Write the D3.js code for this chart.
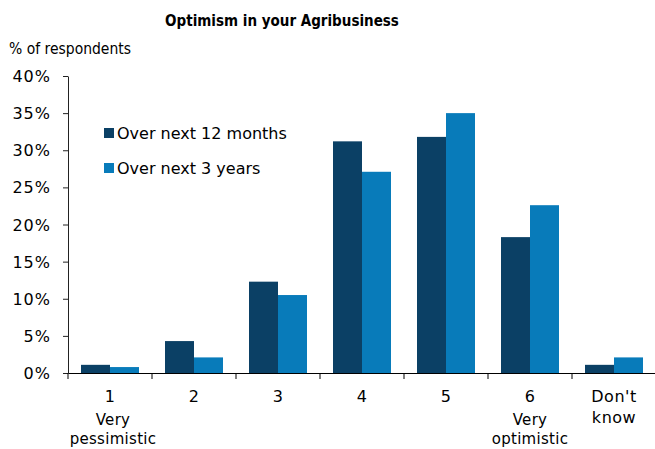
<!DOCTYPE html>
<html><head><meta charset="utf-8">
<script src="https://cdn.jsdelivr.net/npm/d3@7/dist/d3.min.js"></script>
<style>body{margin:0;background:#fff}svg{display:block;font-family:"DejaVu Sans",Verdana,sans-serif}</style>
</head><body>
<svg id="c" width="655" height="449"></svg>
<script>
const categories = ["1","2","3","4","5","6","Don't know"];
const subLabels1 = ["Very","pessimistic"];
const subLabels6 = ["Very","optimistic"];
const series = ["Over next 12 months","Over next 3 years"];
const next12Months = [1.1, 4.3, 12.3, 31.2, 31.8, 18.3, 1.1];
const next3Years   = [0.8, 2.1, 10.5, 27.1, 35.0, 22.6, 2.1];
const yTicks = [0,5,10,15,20,25,30,35,40];
const colors = ["#0b4065", "#087bba"];

const svg = d3.select("#c");
const x0 = 68, x1 = 656, yTop = 76, yBot = 373;
const x = d3.scaleBand().domain(categories).range([x0, x1]).paddingInner(0).paddingOuter(0);
const xs = d3.scaleBand().domain(series).range([13, x.bandwidth()-13]);
const y = d3.scaleLinear().domain([0,40]).range([yBot, yTop]);

// title
svg.append("text").attr("x", 282).attr("y", 26).attr("text-anchor","middle")
  .attr("font-family","'DejaVu Sans Condensed', 'DejaVu Sans', sans-serif").attr("font-stretch","condensed")
  .attr("font-weight","bold").attr("font-size", 15).attr("fill","#000")
  .text("Optimism in your Agribusiness");
svg.append("text").attr("x", 9).attr("y", 54).attr("font-size", 15.5)
  .attr("font-family","'DejaVu Sans Condensed', 'DejaVu Sans', sans-serif").attr("font-stretch","condensed")
  .attr("fill","#000").text("% of respondents");

// bars
const data = categories.map((c,i)=>({c, vals:[next12Months[i], next3Years[i]]}));
const g = svg.append("g");
data.forEach(d=>{
  d.vals.forEach((v,j)=>{
    g.append("rect").attr("x", x(d.c)+xs(series[j])).attr("width", xs.bandwidth())
      .attr("y", y(v)).attr("height", yBot - y(v)).attr("fill", colors[j]);
  });
});

// y axis
const ya = svg.append("g").attr("transform",`translate(${x0},0)`)
  .call(d3.axisLeft(y).tickValues(yTicks).tickFormat(d=>d+"%").tickSize(5).tickSizeOuter(0));
ya.select(".domain").attr("stroke","#222");
ya.selectAll(".tick line").attr("stroke","#222");
ya.selectAll(".tick text").attr("font-size",16).attr("font-family","DejaVu Sans, sans-serif")
  .attr("letter-spacing",1).attr("fill","#000").attr("x",-17).attr("dy","0.35em");

// x axis
const xa = svg.append("g").attr("transform",`translate(0,${yBot})`)
  .call(d3.axisBottom(x).tickSize(0).tickSizeOuter(0));
xa.select(".domain").attr("stroke","#000");
xa.selectAll(".tick text").remove();
// boundary ticks
svg.append("g").selectAll("line").data(categories).join("line")
  .attr("x1", d=>x(d)).attr("x2", d=>x(d)).attr("y1", yBot).attr("y2", yBot+6)
  .attr("stroke","#000");

// x labels
categories.forEach((c,i)=>{
  const cx = x(c) + x.bandwidth()/2;
  const lines = c === "Don't know" ? ["Don't","know"] : [c];
  lines.forEach((t,k)=>{
    svg.append("text").attr("x", cx).attr("y", 402 + k*21).attr("text-anchor","middle")
      .attr("font-size",16).attr("letter-spacing",0.5).attr("fill","#000").text(t);
  });
  const sub = i===0 ? subLabels1 : (i===5 ? subLabels6 : []);
  sub.forEach((t,k)=>{
    svg.append("text").attr("x", cx + (i===0 ? 3 : 0)).attr("y", 425 + k*19).attr("text-anchor","middle")
      .attr("font-size",15).attr("letter-spacing",0.3).attr("fill","#000").text(t);
  });
});

// legend
series.forEach((s,j)=>{
  const ly = 139 + j*35;
  svg.append("rect").attr("x",104).attr("y", ly-11).attr("width",10).attr("height",10).attr("fill",colors[j]);
  svg.append("text").attr("x",117).attr("y", ly).attr("font-size",16).attr("fill","#000").text(s);
});
</script>
</body></html>
